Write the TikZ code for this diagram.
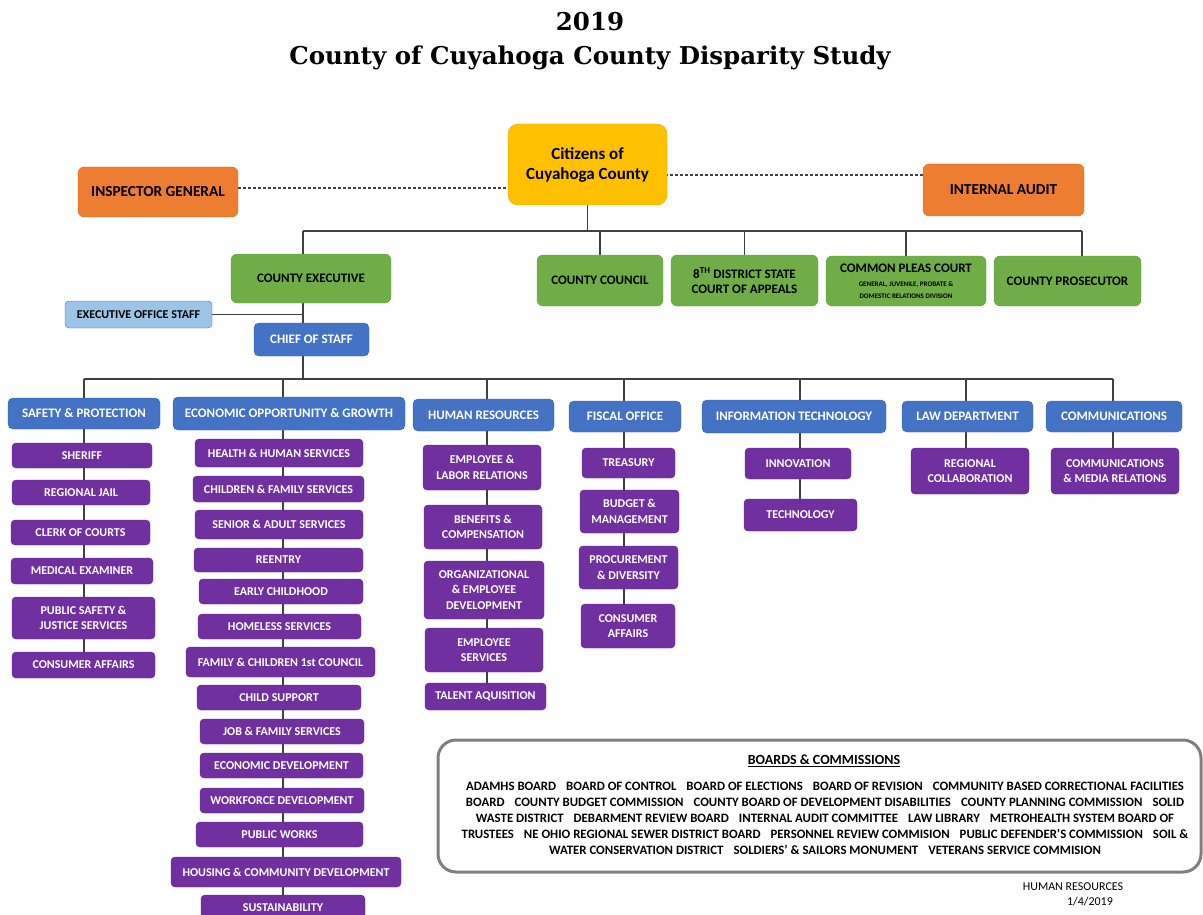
\documentclass[tikz,border=0pt]{standalone}
\usepackage{fontspec}
\setmainfont{Carlito}
\newfontfamily\titlefont{DejaVu Serif}
\usetikzlibrary{backgrounds}

\definecolor{ccyellow}{HTML}{FFC000}
\definecolor{ccorange}{HTML}{ED7D31}
\definecolor{ccgreen}{HTML}{70AD47}
\definecolor{ccblue}{HTML}{4472C4}
\definecolor{cclight}{HTML}{9DC3E6}
\definecolor{ccpurple}{HTML}{7030A0}
\definecolor{ccline}{HTML}{404040}
\definecolor{ccframe}{HTML}{7F7F7F}

\newcommand{\bsep}{\hspace{10pt}}

\tikzset{
  box/.style={rectangle, align=center, inner sep=1pt, rounded corners=4pt,
    font=\bfseries\fontsize{12}{14}\selectfont},
  wh/.style 2 args={minimum width=#1, minimum height=#2},
  citizen/.style={box, fill=ccyellow, draw=ccyellow!90!black, rounded corners=10pt,
    font=\bfseries\fontsize{17}{20}\selectfont},
  watch/.style={box, fill=ccorange, draw=ccorange!90!black, rounded corners=6pt,
    font=\bfseries\fontsize{15.3}{17}\selectfont},
  gov/.style={box, fill=ccgreen, draw=ccgreen!90!black, rounded corners=6pt,
    font=\bfseries\fontsize{13}{15}\selectfont},
  staffbox/.style={box, fill=cclight, draw=ccblue, font=\bfseries\fontsize{12}{13}\selectfont},
  dept/.style={box, fill=ccblue, draw=ccblue!85!black, text=white, rounded corners=5pt,
    font=\bfseries\fontsize{13}{15}\selectfont},
  sub/.style={box, fill=ccpurple, draw=ccpurple!85!black, text=white,
    font=\bfseries\fontsize{12}{15.5}\selectfont},
  link/.style={draw=ccline, line width=1.5pt},
  dotlink/.style={draw=ccline, line width=1.4pt, dash pattern=on 3pt off 2pt}
}

\begin{document}
\begin{tikzpicture}[x=1pt,y=-1pt]
\useasboundingbox (0,0) rectangle (1203,915);

% title
\node[font=\titlefont\bfseries\fontsize{24.5}{28}\selectfont] (year) at (590,22) {2019};
\node[font=\titlefont\bfseries\fontsize{24.5}{28}\selectfont] (title) at (590,58) {County of Cuyahoga County Disparity Study};

% top level
\node[citizen, wh={159}{81}] (citizens) at (587.5,164.5) {Citizens of\\Cuyahoga County};
\node[watch, wh={160}{50}] (ig) at (158,192) {INSPECTOR GENERAL};
\node[watch, wh={161}{52}] (ia) at (1003.5,190) {INTERNAL AUDIT};

\node[gov, wh={160}{49}] (exec) at (311,278.5) {COUNTY EXECUTIVE};
\node[gov, wh={126}{51}] (council) at (600,280.5) {COUNTY COUNCIL};
\node[gov, wh={147}{51}] (appeals) at (744.5,280.5) {8\textsuperscript{TH} DISTRICT STATE\\COURT OF APPEALS};
\node[gov, wh={160}{50}] (pleas) at (906,281) {COMMON PLEAS COURT\\[-1pt]
  {\fontsize{7}{8}\selectfont GENERAL, JUVENILE, PROBATE \&}\\[-3pt]
  {\fontsize{7}{8}\selectfont DOMESTIC RELATIONS DIVISION}};
\node[gov, wh={147}{50}] (prosecutor) at (1067.5,281) {COUNTY PROSECUTOR};

\node[staffbox, wh={147}{27}] (staff) at (138.5,314.5) {EXECUTIVE OFFICE STAFF};
\node[dept, wh={115}{33}] (chief) at (311.5,339.5) {CHIEF OF STAFF};

% departments
\node[dept, wh={152}{31}] (safety) at (84,413.5) {SAFETY \& PROTECTION};
\node[dept, wh={232}{33}] (econ) at (289,413.5) {ECONOMIC OPPORTUNITY \& GROWTH};
\node[dept, wh={141}{32}] (hr) at (483.5,415) {HUMAN RESOURCES};
\node[dept, wh={112}{31}] (fiscal) at (625,416.5) {FISCAL OFFICE};
\node[dept, wh={184}{33}] (it) at (794,416.5) {INFORMATION TECHNOLOGY};
\node[dept, wh={131}{31}] (law) at (967.5,416.5) {LAW DEPARTMENT};
\node[dept, wh={136}{31}] (comms) at (1114,416.5) {COMMUNICATIONS};

% safety & protection
\node[sub, wh={140}{25}] (sheriff) at (82,455.5) {SHERIFF};
\node[sub, wh={138}{25}] (jail) at (81,492.5) {REGIONAL JAIL};
\node[sub, wh={139}{25}] (clerk) at (80.5,532.5) {CLERK OF COURTS};
\node[sub, wh={142}{26}] (medex) at (82,571) {MEDICAL EXAMINER};
\node[sub, wh={143}{42}] (justice) at (83.5,618) {PUBLIC SAFETY \&\\JUSTICE SERVICES};
\node[sub, wh={143}{26}] (safeconsumer) at (83.5,665) {CONSUMER AFFAIRS};

% economic opportunity & growth
\node[sub, wh={168}{28}] (health) at (279,453) {HEALTH \& HUMAN SERVICES};
\node[sub, wh={171}{26}] (children) at (278.5,489) {CHILDREN \& FAMILY SERVICES};
\node[sub, wh={168}{29}] (senior) at (279,524.5) {SENIOR \& ADULT SERVICES};
\node[sub, wh={169}{24}] (reentry) at (278.5,560) {REENTRY};
\node[sub, wh={164}{25}] (early) at (281,591.5) {EARLY CHILDHOOD};
\node[sub, wh={163}{25}] (homeless) at (279.5,626.5) {HOMELESS SERVICES};
\node[sub, wh={189}{30}] (firstcouncil) at (280.5,662) {FAMILY \& CHILDREN 1st COUNCIL};
\node[sub, wh={164}{25}] (childsupport) at (279,697.5) {CHILD SUPPORT};
\node[sub, wh={164}{25}] (jobfamily) at (282,731.5) {JOB \& FAMILY SERVICES};
\node[sub, wh={163}{25}] (econdev) at (281.5,765.5) {ECONOMIC DEVELOPMENT};
\node[sub, wh={164}{25}] (workforce) at (282,800.5) {WORKFORCE DEVELOPMENT};
\node[sub, wh={167}{25}] (publicworks) at (279.5,834.5) {PUBLIC WORKS};
\node[sub, wh={230}{30}] (housing) at (286,872) {HOUSING \& COMMUNITY DEVELOPMENT};
\node[sub, wh={164}{26}] (sustain) at (283,908) {SUSTAINABILITY};

% human resources
\node[sub, wh={118}{45}] (labor) at (482,467.5) {EMPLOYEE \&\\LABOR RELATIONS};
\node[sub, wh={118}{44}] (benefits) at (483,527) {BENEFITS \&\\COMPENSATION};
\node[sub, wh={120}{58}] (orgdev) at (484,590) {ORGANIZATIONAL\\\& EMPLOYEE\\DEVELOPMENT};
\node[sub, wh={118}{44}] (empservices) at (484,650) {EMPLOYEE\\SERVICES};
\node[sub, wh={121}{27}] (talent) at (485.5,696.5) {TALENT AQUISITION};

% fiscal office
\node[sub, wh={93}{30}] (treasury) at (628.5,463) {TREASURY};
\node[sub, wh={99}{43}] (budget) at (629.5,511.5) {BUDGET \&\\MANAGEMENT};
\node[sub, wh={99}{43}] (procure) at (628.5,567.5) {PROCUREMENT\\\& DIVERSITY};
\node[sub, wh={94}{44}] (fiscconsumer) at (628,626) {CONSUMER\\AFFAIRS};

% information technology, law, communications
\node[sub, wh={106}{31}] (innovation) at (798,463.5) {INNOVATION};
\node[sub, wh={113}{32}] (technology) at (800.5,515) {TECHNOLOGY};
\node[sub, wh={118}{46}] (regional) at (970,471) {REGIONAL\\COLLABORATION};
\node[sub, wh={128}{46}] (media) at (1115,471) {COMMUNICATIONS\\\& MEDIA RELATIONS};

% connectors
\coordinate (topL) at (303,231);
\coordinate (topR) at (1082,231);
\coordinate (midL) at (84,379);
\coordinate (midR) at (1113,379);
\coordinate (midX) at (303,379);
\coordinate (dEcon) at (283,379);
\coordinate (dHr) at (487,379);
\coordinate (dFiscal) at (624,379);
\coordinate (dIt) at (800,379);
\coordinate (dLaw) at (966,379);

\begin{scope}[on background layer]
  \draw[dotlink] ([yshift=4pt]ig.east) -- ([yshift=4pt]ig.east -| citizens.west);
  \draw[dotlink] ([yshift=15pt]ia.west) -- ([yshift=15pt]ia.west -| citizens.east);
  \draw[link] (citizens.south) -- (citizens.south |- topL);
  \draw[link] (topL) -- (topR);
  \draw[link] (topR) -- (topR |- prosecutor.north);
  \foreach \n in {council, appeals, pleas}
    \draw[link] (\n.north) -- (\n.north |- topL);
  \draw[link] (topL) -- (midX);
  \draw[link] (staff.east) -- (staff.east -| topL);
  \draw[link] (midL) -- (midR);
  \draw[link] (midL) -- (midL |- safeconsumer.north);
  \draw[link] (dEcon) -- (dEcon |- sustain.north);
  \draw[link] (dHr) -- (dHr |- talent.north);
  \draw[link] (dFiscal) -- (dFiscal |- fiscconsumer.north);
  \draw[link] (dIt) -- (dIt |- technology.north);
  \draw[link] (dLaw) -- (dLaw |- regional.north);
  \draw[link] (midR) -- (midR |- media.north);
\end{scope}

% boards and commissions
\draw[draw=ccframe, line width=3pt, fill=white, rounded corners=18pt] (438,740) rectangle (1201,872);
\node[font=\bfseries\fontsize{14}{16}\selectfont] (boards) at (824,761) {\underline{BOARDS \& COMMISSIONS}};
\node[align=center, font=\bfseries\fontsize{12.8}{16}\selectfont] (boardlist) at (825,818) {%
ADAMHS BOARD\bsep BOARD OF CONTROL\bsep BOARD OF ELECTIONS\bsep BOARD OF REVISION\bsep COMMUNITY BASED CORRECTIONAL FACILITIES\\
BOARD\bsep COUNTY BUDGET COMMISSION\bsep COUNTY BOARD OF DEVELOPMENT DISABILITIES\bsep COUNTY PLANNING COMMISSION\bsep SOLID\\
WASTE DISTRICT\bsep DEBARMENT REVIEW BOARD\bsep INTERNAL AUDIT COMMITTEE\bsep LAW LIBRARY\bsep METROHEALTH SYSTEM BOARD OF\\
TRUSTEES\bsep NE OHIO REGIONAL SEWER DISTRICT BOARD\bsep PERSONNEL REVIEW COMMISION\bsep PUBLIC DEFENDER’S COMMISSION\bsep SOIL \&\\
WATER CONSERVATION DISTRICT\bsep SOLDIERS’ \& SAILORS MONUMENT\bsep VETERANS SERVICE COMMISION};

\node[font=\fontsize{12}{13}\selectfont] (footer) at (1073,887) {HUMAN RESOURCES};
\node[font=\fontsize{12}{13}\selectfont] (footdate) at (1090,902) {1/4/2019};
\end{tikzpicture}
\end{document}
